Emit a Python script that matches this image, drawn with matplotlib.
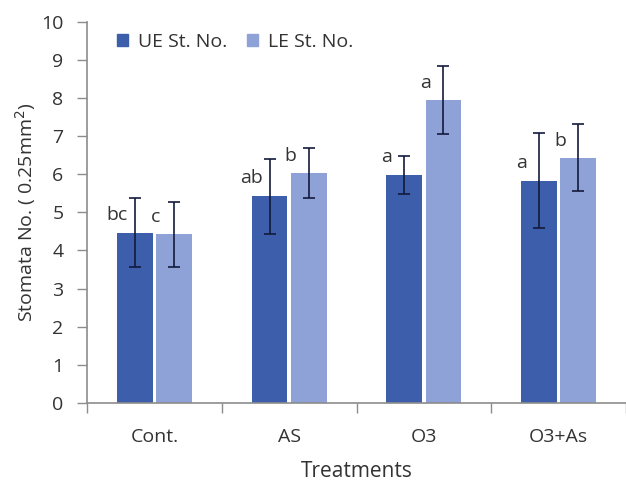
import matplotlib
matplotlib.use('Agg')
import matplotlib.pyplot as plt
from matplotlib.patches import Patch
import numpy as np

# ─── DATA ────────────────────────────────────────────────────────────────────
treatments = ['Cont.', 'AS', 'O3', 'O3+As']
ue_mean = [4.47, 5.42, 5.98, 5.83]
ue_err = [0.90, 0.98, 0.51, 1.24]
le_mean = [4.42, 6.03, 7.95, 6.43]
le_err = [0.86, 0.66, 0.89, 0.88]
ue_letters = ['bc', 'ab', 'a', 'a']
le_letters = ['c', 'b', 'a', 'b']
series_names = ['UE St. No.', 'LE St. No.']

# ─── STYLE ───────────────────────────────────────────────────────────────────
UE_COL = '#3d5fab'
LE_COL = '#8ea2d8'
ERR_COL = '#141a3c'
AX_COL = '#8c8c8c'
TXT_COL = '#333333'
FS = 14
plt.rcParams['font.family'] = ['Open Sans', 'DejaVu Sans']

fig = plt.figure(figsize=(6.26, 4.86), dpi=100)
ax = fig.add_axes([87 / 626, 1 - 403 / 486, 1 - 87 / 626, (403 - 21.7) / 486])

x = np.arange(len(treatments))
w = 0.265
off = 0.145

err_kw = dict(ecolor=ERR_COL, elinewidth=1.2, capsize=4.5, capthick=1.2)
ax.bar(x - off, ue_mean, w, color=UE_COL, yerr=ue_err, error_kw=err_kw, zorder=2)
ax.bar(x + off, le_mean, w, color=LE_COL, yerr=le_err, error_kw=err_kw, zorder=2)

# significance letters, centred on the left edge of each bar
for xi, m, lab in zip(x - off, ue_mean, ue_letters):
    ax.text(xi - w / 2, m + 0.47, lab, ha='center', va='center',
            fontsize=FS, color=TXT_COL)
for xi, m, lab in zip(x + off, le_mean, le_letters):
    ax.text(xi - w / 2, m + 0.45, lab, ha='center', va='center',
            fontsize=FS, color=TXT_COL)

ax.set_ylim(0, 10)
ax.set_xlim(-0.5, 3.463)
ax.set_yticks(range(0, 11))

ax.set_xticks(np.arange(-0.5, 4.0, 1.0))
ax.set_xticklabels([])
ax.set_xticks(x, minor=True)
ax.set_xticklabels(treatments, minor=True)
ax.tick_params(axis='x', which='major', direction='out', length=7,
               width=1, color=AX_COL)
ax.tick_params(axis='x', which='minor', length=0, pad=18,
               labelsize=FS, labelcolor=TXT_COL)
ax.tick_params(axis='y', direction='out', length=7, width=1, color=AX_COL,
               pad=10, labelsize=FS, labelcolor=TXT_COL)

for s in ['top', 'right']:
    ax.spines[s].set_visible(False)
for s in ['left', 'bottom']:
    ax.spines[s].set_color(AX_COL)
    ax.spines[s].set_linewidth(1.2)

ax.set_ylabel('Stomata No. ( 0.25mm$^2$)', fontsize=FS, color=TXT_COL,
              labelpad=2)
ax.set_xlabel('Treatments', fontsize=15, color=TXT_COL, labelpad=11)

handles = [Patch(color=UE_COL), Patch(color=LE_COL)]
ax.legend(handles, series_names, loc='center left',
          bbox_to_anchor=(0.055, 0.947), ncol=2, frameon=False,
          handlelength=0.6, handleheight=0.6, handletextpad=0.5,
          columnspacing=1.0, borderpad=0, borderaxespad=0,
          fontsize=FS, labelcolor=TXT_COL)

fig.savefig('out.png', dpi=100, facecolor='white')
